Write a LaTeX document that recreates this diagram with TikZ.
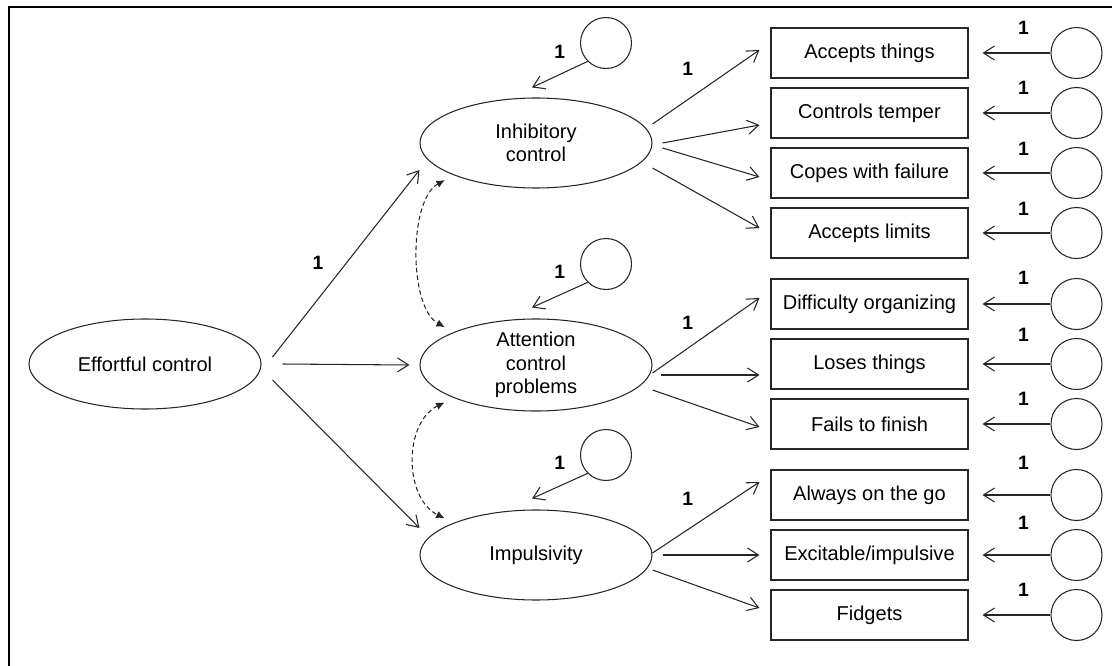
\documentclass[tikz,border=0pt]{standalone}
\usepackage{fontspec}
\setmainfont{Liberation Sans}
\usetikzlibrary{shapes.geometric,arrows.meta}
\tikzset{every path/.style={line width=0.6pt},
  lat/.style={draw=black!85, ellipse, minimum width=46.4mm, minimum height=18mm, inner sep=0pt, align=center, font=\fontsize{11.4}{13.2}\selectfont},
  obs/.style={draw=black!85, rectangle, minimum width=39.4mm, minimum height=10mm, inner sep=0pt, font=\fontsize{11.4}{13.2}\selectfont},
  err/.style={draw=black!85, circle, minimum size=10.2mm, inner sep=0pt},
  one/.style={font=\fontsize{11}{12}\selectfont\bfseries, inner sep=0pt},
  load/.style={draw=black!85, -{Straight Barb[length=2.2mm,width=2.8mm]}},
  cov/.style={draw=black!85, {Latex[length=1.7mm,width=1.5mm]}-{Latex[length=1.7mm,width=1.5mm]}, dash pattern=on 0.9mm off 0.6mm, shorten <=2mm, shorten >=2mm}}

\begin{document}
\begin{tikzpicture}[x=0.2mm,y=-0.2mm]
  \useasboundingbox (0,0) rectangle (1112,666);
  \draw[line width=1.7pt] (9,680) -- (9,7) -- (1125,7);

  \node[lat] (eff) at (145,364) {Effortful control};
  \node[lat] (inh) at (536,143) {Inhibitory\\control};
  \node[lat] (att) at (536,365) {Attention\\control\\problems};
  \node[lat] (imp) at (536,555) {Impulsivity};

  \node[err] (ei) at (606, 43) {};
  \node[err] (ea) at (606,264) {};
  \node[err] (em) at (606,455) {};

  \node[obs] (b1) at (869.5, 53) {Accepts things};
  \node[obs] (b2) at (869.5,113) {Controls temper};
  \node[obs] (b3) at (869.5,173) {Copes with failure};
  \node[obs] (b4) at (869.5,233) {Accepts limits};
  \node[obs] (d1) at (869.5,304) {Difficulty organizing};
  \node[obs] (d2) at (869.5,364) {Loses things};
  \node[obs] (d3) at (869.5,424) {Fails to finish};
  \node[obs] (a1) at (869.5,495) {Always on the go};
  \node[obs] (a2) at (869.5,555) {Excitable/impulsive};
  \node[obs] (a3) at (869.5,615) {Fidgets};

  \node[err] (eb1) at (1076.5, 53) {};
  \node[err] (eb2) at (1076.5,113) {};
  \node[err] (eb3) at (1076.5,173) {};
  \node[err] (eb4) at (1076.5,233) {};
  \node[err] (ed1) at (1076.5,304) {};
  \node[err] (ed2) at (1076.5,364) {};
  \node[err] (ed3) at (1076.5,424) {};
  \node[err] (ea1) at (1076.5,495) {};
  \node[err] (ea2) at (1076.5,555) {};
  \node[err] (ea3) at (1076.5,615) {};

  \draw[load] ([xshift=2.2mm,yshift=1.4mm]eff.east) -- ([xshift=0mm,yshift=-5.4mm]inh.west)
    node[one, pos=.31, yshift=7.2mm] {1};
  \draw[load] ([xshift=4.2mm]eff.east) -- ([xshift=-2mm]att.west);
  \draw[load] ([xshift=2.2mm,yshift=-3.2mm]eff.east) -- ([xshift=0mm,yshift=5.4mm]imp.west);

  \draw[load] (ei.225) -- ([xshift=-0.8mm,yshift=2mm]inh.north) node[one, midway, yshift=4.6mm] {1};
  \draw[load] (ea.225) -- ([xshift=-0.8mm,yshift=2.2mm]att.north) node[one, midway, yshift=4.6mm] {1};
  \draw[load] (em.225) -- ([xshift=-0.8mm,yshift=2.2mm]imp.north) node[one, midway, yshift=4.6mm] {1};

  \draw[cov] (inh.south west) .. controls +(-45,25) and +(-45,-25) .. (att.north west);
  \draw[cov] (att.south west) .. controls +(-50,25) and +(-50,-25) .. (imp.north west);

  \draw[load] ([yshift=3.8mm]inh.east) -- ([xshift=-2.2mm,yshift=0.6mm]b1.west)
    node[one, pos=.33, yshift=6.2mm] {1};
  \draw[load] ([xshift=2mm]inh.east) -- ([xshift=-2.2mm,yshift=-2.4mm]b2.west);
  \draw[load] ([xshift=2mm,yshift=-1mm]inh.east) -- ([xshift=-2.2mm,yshift=-0.8mm]b3.west);
  \draw[load] ([yshift=-5mm]inh.east) -- ([xshift=-2.2mm,yshift=1mm]b4.west);

  \draw[load] ([yshift=-1.6mm]att.east) -- ([xshift=-2.2mm,yshift=1.2mm]d1.west)
    node[one, pos=.33, yshift=5mm] {1};
  \draw[load] ([xshift=1.6mm,yshift=-2mm]att.east) -- ([xshift=-2.2mm,yshift=-2.2mm]d2.west);
  \draw[load] ([yshift=-5mm]att.east) -- ([xshift=-2.2mm,yshift=-0.6mm]d3.west);

  \draw[load] ([yshift=0.4mm]imp.east) -- ([xshift=-2.2mm,yshift=2.6mm]a1.west)
    node[one, pos=.33, yshift=6.2mm] {1};
  \draw[load] ([xshift=2mm]imp.east) -- ([xshift=-2.2mm]a2.west);
  \draw[load] ([yshift=-3mm]imp.east) -- ([xshift=-2.2mm,yshift=1.4mm]a3.west);

  \draw[load, shorten >=2.8mm] (eb1.west) -- (b1.east) node[one, pos=.33, yshift=5mm] {1};
  \draw[load, shorten >=2.8mm] (eb2.west) -- (b2.east) node[one, pos=.33, yshift=5mm] {1};
  \draw[load, shorten >=2.8mm] (eb3.west) -- (b3.east) node[one, pos=.33, yshift=4.9mm] {1};
  \draw[load, shorten >=2.8mm] (eb4.west) -- (b4.east) node[one, pos=.33, yshift=4.9mm] {1};
  \draw[load, shorten >=2.8mm] (ed1.west) -- (d1.east) node[one, pos=.33, yshift=5.3mm] {1};
  \draw[load, shorten >=2.8mm] (ed2.west) -- (d2.east) node[one, pos=.33, yshift=5.9mm] {1};
  \draw[load, shorten >=2.8mm] (ed3.west) -- (d3.east) node[one, pos=.33, yshift=5.1mm] {1};
  \draw[load, shorten >=2.8mm] (ea1.west) -- (a1.east) node[one, pos=.33, yshift=6.4mm] {1};
  \draw[load, shorten >=2.8mm] (ea2.west) -- (a2.east) node[one, pos=.33, yshift=6.4mm] {1};
  \draw[load, shorten >=2.8mm] (ea3.west) -- (a3.east) node[one, pos=.33, yshift=5mm] {1};
\end{tikzpicture}
\end{document}
